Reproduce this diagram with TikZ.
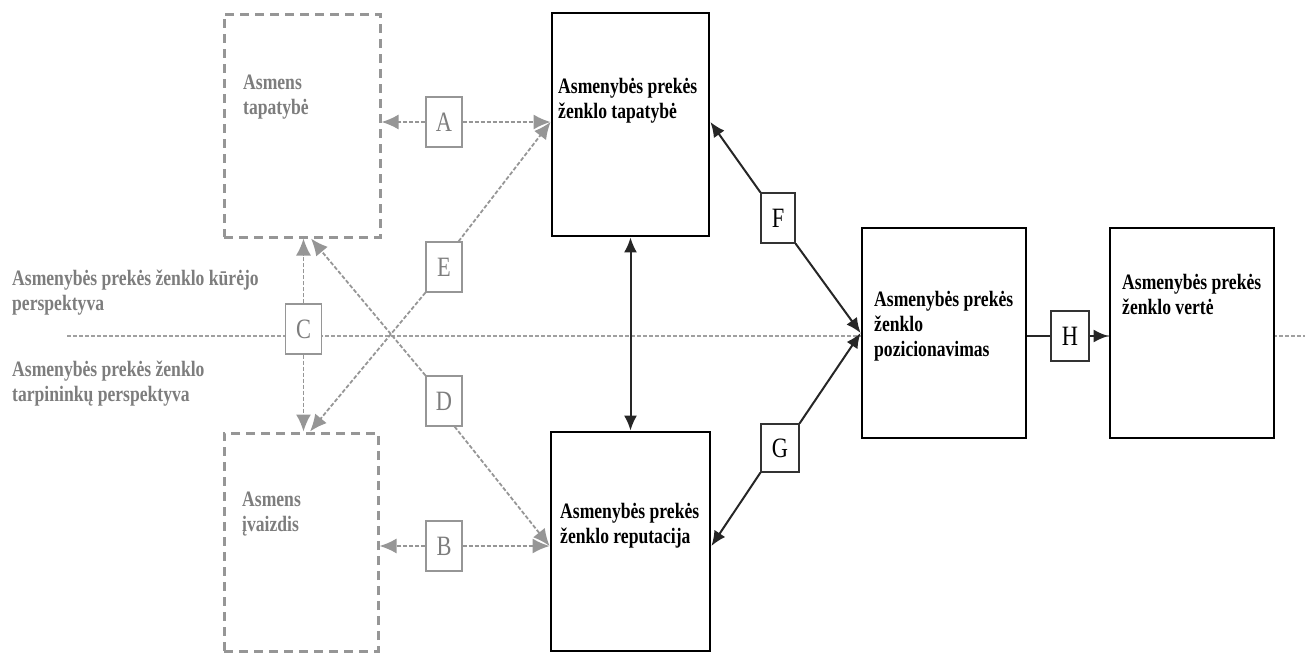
\documentclass[tikz,border=0pt]{standalone}
\usepackage{fontspec}
\setmainfont{Liberation Serif}
\newfontfamily\condfont[FakeStretch=0.8]{Liberation Serif}
\usetikzlibrary{arrows.meta}
\definecolor{gline}{RGB}{150,150,150}
\definecolor{gtext}{RGB}{125,125,125}
\begin{document}
\begin{tikzpicture}[x=1pt,y=-1pt,
  mainbox/.style={draw=black,line width=2.8pt,fill=white,inner sep=0pt},
  ghostbox/.style={draw=gline,line width=3pt,dash pattern=on 9pt off 6pt,fill=white,inner sep=0pt},
  tagbox/.style={draw=black!80,line width=1.1pt,fill=white,inner sep=0pt,
    minimum width=36pt,minimum height=50pt,font=\condfont\fontsize{28}{28}\selectfont},
  gtagbox/.style={tagbox,draw=gline,text=gtext},
  boxtext/.style={anchor=north west,inner sep=0pt,align=left,
    font=\condfont\bfseries\fontsize{22}{25}\selectfont},
  gboxtext/.style={boxtext,text=gtext},
  btip/.tip={Latex[length=15pt,width=13pt]},
  gtip/.tip={Latex[length=17pt,width=15pt]},
  bconn/.style={draw=black!85,line width=2pt,-btip},
  gconn/.style={draw=gline,line width=1.8pt,dash pattern=on 4pt off 2pt,-gtip},
  bplain/.style={draw=black!85,line width=2pt},
  divider/.style={draw=gline!90,line width=1.6pt,dash pattern=on 4pt off 2pt}]
\useasboundingbox (0,0) rectangle (1309,654);

% dividing line between the two perspectives
\coordinate (divL) at (67,336);
\coordinate (divR) at (1305,336);
\draw[divider] (divL) -- (divR);

% perspective captions
\node[gboxtext] (capU) at (12,270) {Asmenybės prekės ženklo kūrėjo\\perspektyva};
\node[gboxtext] (capL) at (12,361) {Asmenybės prekės ženklo\\tarpininkų perspektyva};

% boxes
\node[ghostbox,minimum width=156pt,minimum height=223pt] (at) at (302,125.5) {};
\node[ghostbox,minimum width=154pt,minimum height=218pt] (ai) at (301,542) {};
\node[mainbox,minimum width=157pt,minimum height=223pt] (pbt) at (630.5,124.5) {};
\node[mainbox,minimum width=159pt,minimum height=219pt] (pbr) at (630.5,541.5) {};
\node[mainbox,minimum width=164pt,minimum height=210pt] (pbp) at (944,333) {};
\node[mainbox,minimum width=164pt,minimum height=210pt] (pbv) at (1192,333) {};

% box texts
\node[gboxtext] (atT) at (243,75) {Asmens\\tapatybė};
\node[gboxtext] (aiT) at (242,492) {Asmens\\įvaizdis};
\node[boxtext] (pbtT) at (558,78) {Asmenybės prekės\\ženklo tapatybė};
\node[boxtext] (pbrT) at (560,503) {Asmenybės prekės\\ženklo reputacija};
\node[boxtext] (pbpT) at (874,291) {Asmenybės prekės\\ženklo\\pozicionavimas};
\node[boxtext] (pbvT) at (1122,274) {Asmenybės prekės\\ženklo vertė};

% relation tags
\node[gtagbox] (la) at (444,122) {A};
\node[gtagbox] (lb) at (444,546) {B};
\node[gtagbox] (lc) at (303.5,329) {C};
\node[gtagbox] (ld) at (444,401) {D};
\node[gtagbox] (le) at (444,267) {E};
\node[tagbox,minimum width=34pt] (lf) at (778,218) {F};
\node[tagbox,minimum width=38pt,minimum height=48pt] (lg) at (780,448) {G};
\node[tagbox,minimum width=38pt] (lh) at (1070,336) {H};

% A and B
\draw[gconn] (la.west) -- (at.east |- la);
\draw[gconn] (la.east) -- (pbt.west |- la);
\draw[gconn] (lb.west) -- (ai.east |- lb);
\draw[gconn] (lb.east) -- (pbr.west |- lb);
% C
\draw[gconn] (lc.north) -- (at.south -| lc);
\draw[gconn] (lc.south) -- (ai.north -| lc);
% D
\draw[gconn] (ld.north west) -- ([xshift=9pt]at.south);
\draw[gconn] ([xshift=-8pt]ld.south east) -- (pbr.west |- lb);
% E
\draw[gconn] (le.south west) -- ([xshift=9pt]ai.north);
\draw[gconn] ([xshift=-4pt]le.north east) -- (pbt.west |- la);

% identity <-> reputation
\draw[bconn,btip-btip] (pbt.south) -- (pbr.north);
% F and G
\draw[bconn] (lf.north west) -- (pbt.east |- la);
\draw[bconn] (lf.south east) -- (pbp.west);
\draw[bconn] (lg.south west) -- (pbr.east |- lb);
\draw[bconn] (lg.north east) -- (pbp.west);
% H
\draw[bplain] (pbp.east |- lh) -- (lh.west);
\draw[bconn] (lh.east) -- (pbv.west |- lh);
\end{tikzpicture}
\end{document}
